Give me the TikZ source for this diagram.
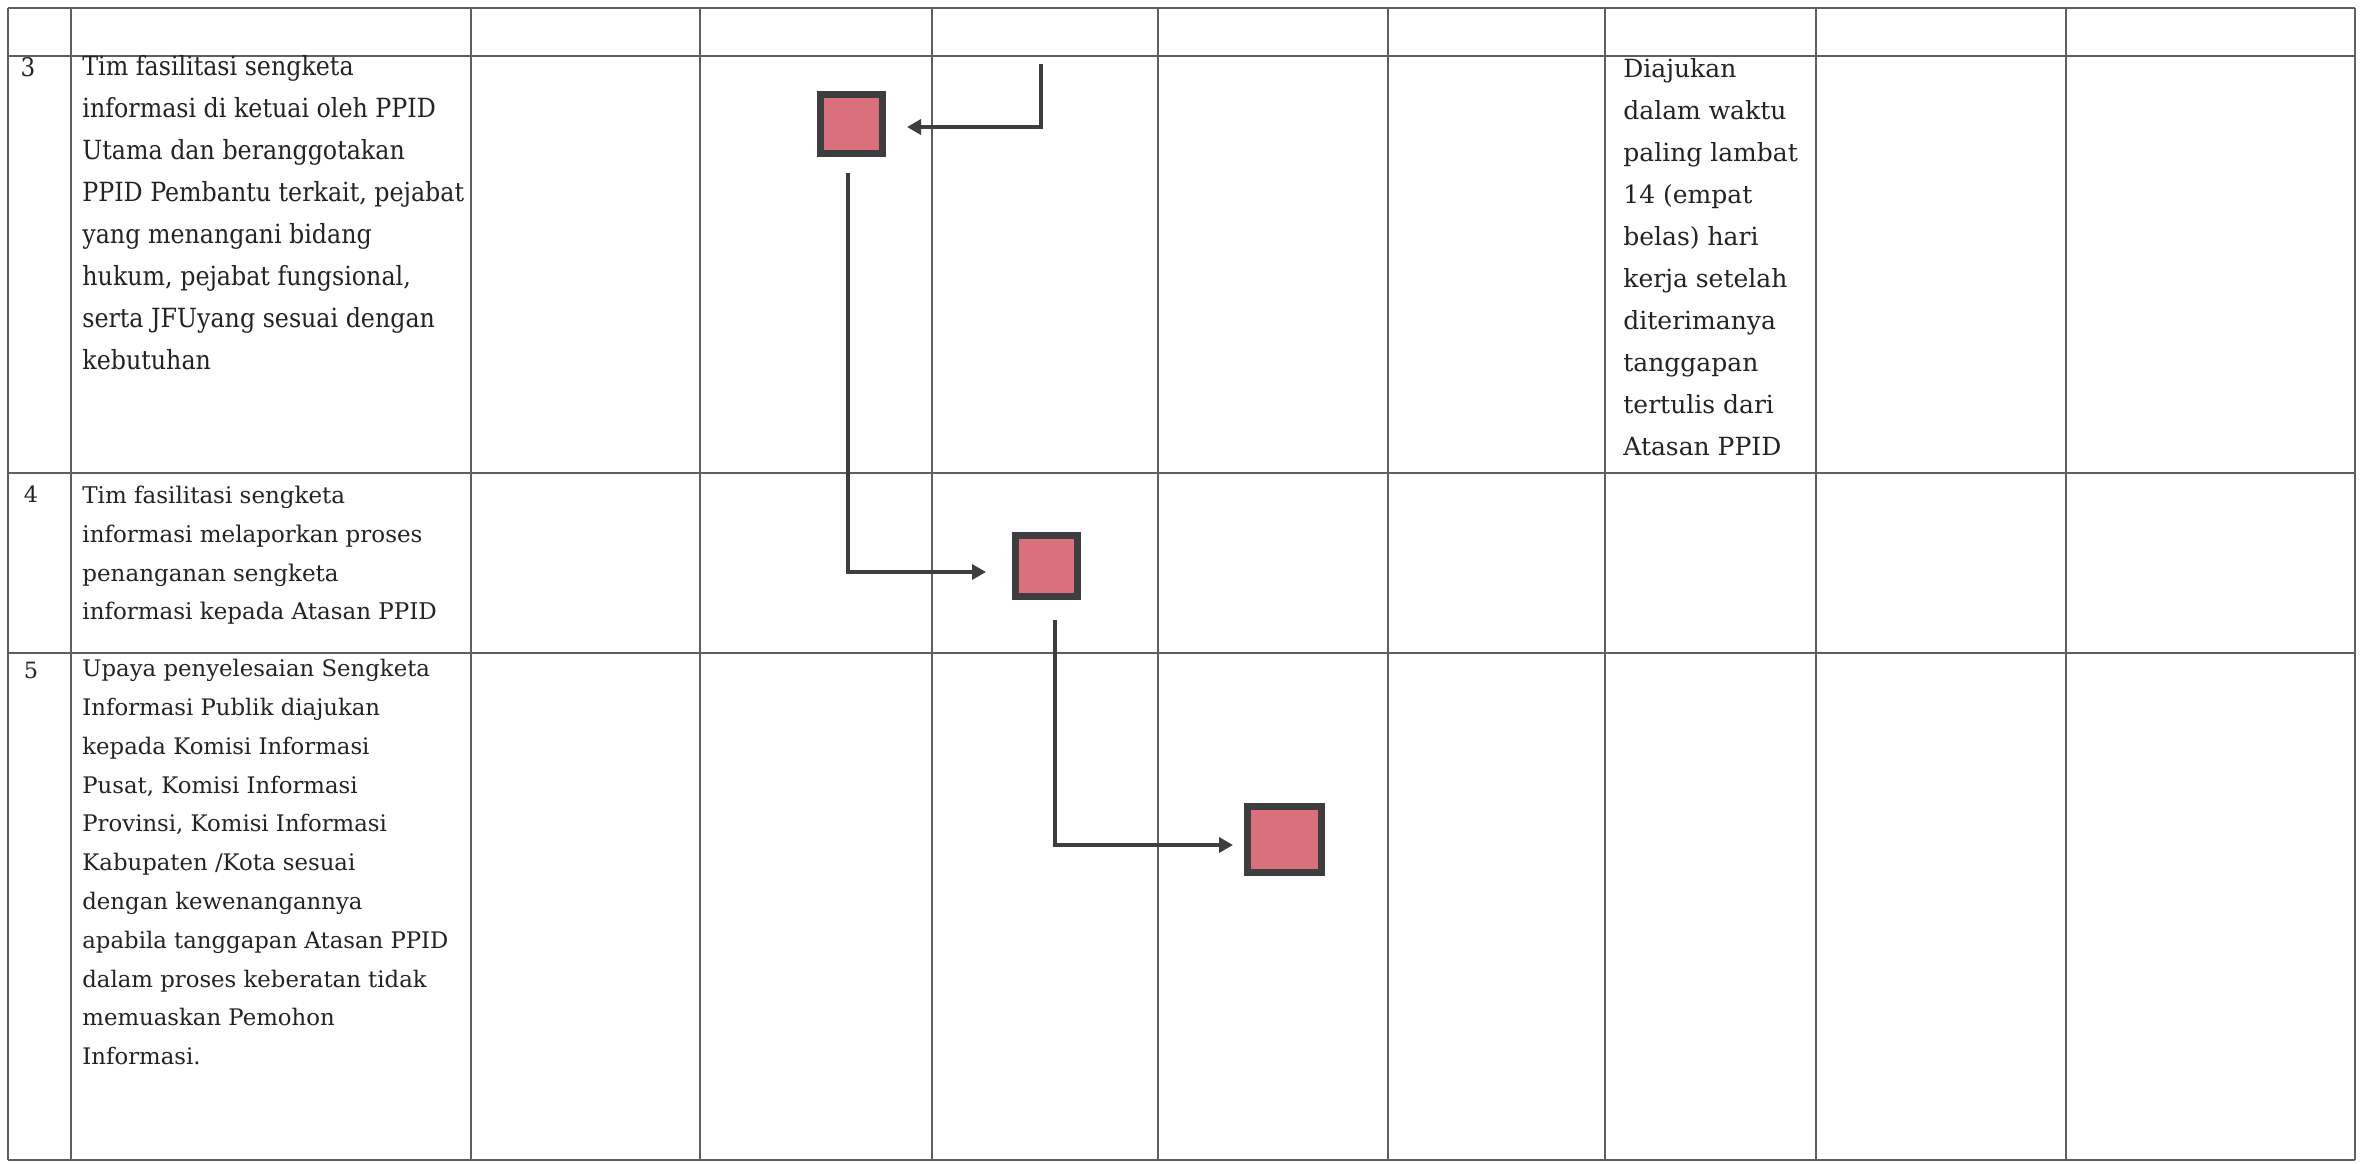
\documentclass[tikz,border=0pt]{standalone}
\usepackage{fontspec}
\usetikzlibrary{arrows.meta,shadows}
\newfontfamily\bookfont{DejaVu Serif}
\newfontfamily\condfont{DejaVu Serif Condensed}
\definecolor{boxfill}{RGB}{217,112,124}
\definecolor{boxline}{RGB}{62,62,64}
\definecolor{gridc}{RGB}{95,95,95}
\definecolor{txt}{RGB}{35,35,35}
\begin{document}
\begin{tikzpicture}[x=0.5pt,y=-0.5pt,
  gridline/.style={draw=gridc,line width=0.7pt},
  actbox/.style={draw=boxline,fill=boxfill,line width=3.5pt,inner sep=0pt,outer sep=0pt,
    drop shadow={shadow xshift=1.2pt,shadow yshift=-1.5pt,fill=blue!20!gray!50,opacity=.6}},
  flow/.style={draw=boxline,line width=2pt,-{Triangle[length=7pt,width=7.5pt]}},
  booktxt/.style={anchor=north west,align=left,inner sep=0pt,text=txt},
  numtxt/.style={anchor=base,inner sep=0pt,text=txt},
]
\useasboundingbox (0,0) rectangle (2361,1163);
\fill[white] (0,0) rectangle (2361,1163);
% table rules
\foreach \yy in {8,56,473,653,1160}
  \draw[gridline] (8,\yy) -- (2355,\yy);
\foreach \xx in {8,71,471,700,932,1158,1388,1605,1816,2066,2355}
  \draw[gridline] (\xx,8) -- (\xx,1160);
% numbers
\node[numtxt,font=\condfont\fontsize{12.8}{21}\selectfont] (n3) at (28,76) {3};
\node[numtxt,font=\bookfont\fontsize{11.2}{21}\selectfont] (n4) at (31,502) {4};
\node[numtxt,font=\bookfont\fontsize{11.2}{21}\selectfont] (n5) at (31,678) {5};
% descriptions
\node[booktxt,font=\condfont\fontsize{13.2}{21}\selectfont] (t3) at (82,55) {Tim fasilitasi sengketa\\
informasi di ketuai oleh PPID\\
Utama dan beranggotakan\\
PPID Pembantu terkait, pejabat\\
yang menangani bidang\\
hukum, pejabat fungsional,\\
serta JFUyang sesuai dengan\\
kebutuhan};
\node[booktxt,font=\bookfont\fontsize{11.5}{19.3}\selectfont] (t4) at (82,486) {Tim fasilitasi sengketa\\
informasi melaporkan proses\\
penanganan sengketa\\
informasi kepada Atasan PPID};
\node[booktxt,font=\bookfont\fontsize{11.4}{19.4}\selectfont] (t5) at (82,659) {Upaya penyelesaian Sengketa\\
Informasi Publik diajukan\\
kepada Komisi Informasi\\
Pusat, Komisi Informasi\\
Provinsi, Komisi Informasi\\
Kabupaten /Kota sesuai\\
dengan kewenangannya\\
apabila tanggapan Atasan PPID\\
dalam proses keberatan tidak\\
memuaskan Pemohon\\
Informasi.};
\node[booktxt,font=\bookfont\fontsize{12.5}{21}\selectfont] (tw) at (1623,58) {Diajukan\\
dalam waktu\\
paling lambat\\
14 (empat\\
belas) hari\\
kerja setelah\\
diterimanya\\
tanggapan\\
tertulis dari\\
Atasan PPID};
% activity boxes
\node[actbox,minimum width=31pt,minimum height=29.5pt] (b1) at (851.5,124) {};
\node[actbox,minimum width=31pt,minimum height=30.5pt] (b2) at (1046.5,566) {};
\node[actbox,minimum width=37pt,minimum height=33pt] (b3) at (1284.5,839.5) {};
% connectors
\coordinate (s1) at (1041,64);
\draw[flow,shorten >=12.25pt] (s1) |- ([yshift=-1.5pt]b1.east);
\draw[flow,shorten <=9.75pt,shorten >=14.75pt] ([xshift=-1.75pt]b1.south) |- ([yshift=-3pt]b2.west);
\draw[flow,shorten <=11.75pt,shorten >=7.25pt] ([xshift=4.25pt]b2.south) |- ([yshift=-2.75pt]b3.west);
\end{tikzpicture}
\end{document}
